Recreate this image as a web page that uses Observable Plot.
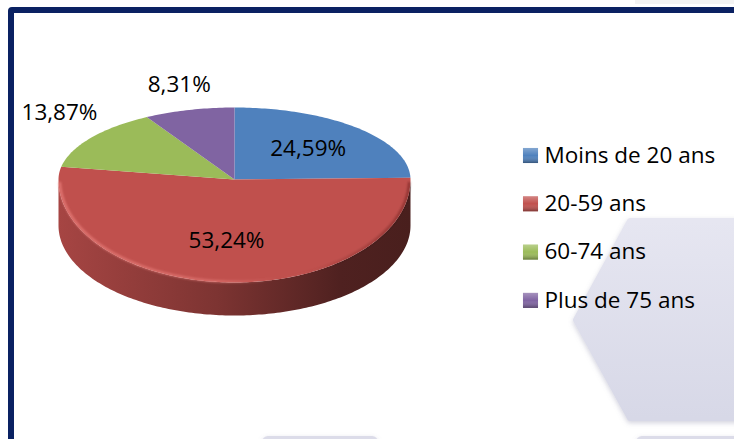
<!DOCTYPE html>
<html>
<head>
<meta charset="utf-8">
<script src="https://cdn.jsdelivr.net/npm/d3@7"></script>
<script src="https://cdn.jsdelivr.net/npm/@observablehq/plot@0.6"></script>
<style>
html, body { margin: 0; padding: 0; width: 734px; height: 439px; overflow: hidden; background: #fff; font-family: "Open Sans", sans-serif; }
#stage { position: relative; width: 734px; height: 439px; overflow: hidden; }
#deco, #chart { position: absolute; left: 0; top: 0; }
#frame { position: absolute; left: 8px; top: 7px; width: 900px; height: 600px; border: 6px solid #0a2162; border-radius: 4px; box-sizing: border-box; }
</style>
</head>
<body>
<div id="stage">
  <svg id="deco" width="734" height="439">
    <defs>
      <linearGradient id="hexg" x1="0" y1="0" x2="0" y2="1">
        <stop offset="0" stop-color="#e6e6f1"/>
        <stop offset="1" stop-color="#d7d8e7"/>
      </linearGradient>
      <filter id="soft" x="-20%" y="-20%" width="140%" height="140%">
        <feDropShadow dx="0" dy="2" stdDeviation="2.5" flood-color="#8080a0" flood-opacity="0.35"/>
      </filter>
    </defs>
    <path d="M630,221 L760,221 L760,418 L630,418 L576,320 Z" fill="url(#hexg)" stroke="url(#hexg)" stroke-width="6" stroke-linejoin="round" filter="url(#soft)"/>
    <rect x="262" y="436" width="116" height="20" rx="6" fill="#dcdce9" filter="url(#soft)"/>
    <rect x="636" y="436" width="120" height="20" rx="6" fill="#dcdce9" filter="url(#soft)"/>
    <rect x="635" y="0" width="99" height="4" fill="#f3f3f3"/>
  </svg>
  <div id="chart"></div>
  <div id="frame"></div>
</div>
<script>
// ---- data ----
const categories = ["Moins de 20 ans", "20-59 ans", "60-74 ans", "Plus de 75 ans"];
const shares = [24.59, 53.24, 13.87, 8.31];
const colors = ["#4F81BD", "#C0504D", "#9BBB59", "#8064A2"];
const labelInside = [true, true, false, false];

// ---- layout ----
const W = 734, H = 439;
const CX = 234, CY = 179, RX = 176, RYT = 72, RYB = 103; // top face
const CY2 = 225, RYB2 = 90;                               // bottom rim
const DEG = Math.PI / 180;
const FONT = "Open Sans";

function topPt(a, k = 1) {
  const c = Math.cos(a);
  return [CX + RX * k * Math.sin(a), CY - (c > 0 ? RYT : RYB) * k * c];
}
function botPt(a) {
  const c = Math.cos(a);
  return [CX + RX * Math.sin(a), CY2 - (c > 0 ? RYT : RYB2) * c];
}
function arcAngles(a0, a1) {
  const n = Math.max(2, Math.ceil((a1 - a0) / DEG));
  return d3.range(n + 1).map(j => a0 + (a1 - a0) * j / n);
}
const fmt = v => v.toFixed(2).replace(".", ",") + "%";

const total = d3.sum(shares);
let acc = 0;
const slices = shares.map((v, i) => {
  const a0 = acc / total * 2 * Math.PI;
  acc += v;
  const a1 = acc / total * 2 * Math.PI;
  return {i, cat: categories[i], v, a0, a1, mid: (a0 + a1) / 2};
});

// top faces
const faceData = slices.flatMap(s =>
  [[CX, CY], ...arcAngles(s.a0, s.a1).map(a => topPt(a))].map(([x, y]) => ({cat: s.cat, x, y}))
);

// sides (front half only)
const sideMarks = slices.map(s => {
  const b0 = Math.max(s.a0, Math.PI / 2), b1 = Math.min(s.a1, 1.5 * Math.PI);
  if (b1 <= b0) return null;
  const as = arcAngles(b0, b1);
  const pts = [...as.map(a => topPt(a)), ...as.slice().reverse().map(a => botPt(a))].map(([x, y]) => ({x, y}));
  return Plot.line(pts, {x: "x", y: "y", fill: `url(#side${s.i})`, stroke: "none", curve: "linear-closed"});
}).filter(Boolean);

// rim highlight along the front edge of the top face
const rimData = arcAngles(92 * DEG, 268 * DEG).map(a => { const [x, y] = topPt(a, 0.993); return {x, y}; });

// labels
const labelData = slices.map(s => {
  let x, y;
  if (labelInside[s.i]) {
    [x, y] = topPt(s.mid, 0.6);
  } else {
    const [ex, ey] = topPt(s.mid, 1);
    x = ex + 38 * Math.sin(s.mid);
    y = ey - 25;
  }
  return {x, y, text: fmt(s.v)};
});

const legendData = categories.map((cat, i) => ({cat, i}));
const LX = 530, LY = 155, LSTEP = 48.3;

const chart = Plot.plot({
  width: W, height: H, margin: 0,
  style: {background: "none", fontFamily: FONT},
  x: {domain: [0, W], range: [0, W], axis: null},
  y: {domain: [0, H], range: [0, H], axis: null},
  color: {domain: categories, range: colors},
  marks: [
    ...sideMarks,
    Plot.line(faceData, {x: "x", y: "y", z: "cat", fill: "cat", stroke: "none", curve: "linear-closed"}),
    Plot.line(rimData, {x: "x", y: "y", stroke: "url(#rim)", strokeWidth: 2.5, curve: "natural"}),
    Plot.text(labelData, {x: "x", y: "y", text: "text", fontSize: 22.5, fontFamily: FONT, fill: "#000", lineAnchor: "middle"}),
    Plot.dot(legendData, {x: d => LX, y: d => LY + d.i * LSTEP, symbol: "square", r: 8.5, fill: "cat"}),
    Plot.dot(legendData, {x: d => LX, y: d => LY + d.i * LSTEP, symbol: "square", r: 8.5, fill: "url(#bevel)"}),
    Plot.text(legendData, {x: d => LX + 14, y: d => LY + d.i * LSTEP, text: "cat", textAnchor: "start", lineAnchor: "middle", fontSize: 22.5, fontFamily: FONT, fill: "#000"})
  ]
});

const defs = slices.map(s => {
  const col = k => d3.color(colors[s.i]).darker(k).formatHex();
  return `<linearGradient id="side${s.i}" gradientUnits="userSpaceOnUse" x1="${CX - RX}" y1="0" x2="${CX + RX}" y2="0">
    <stop offset="0" stop-color="${col(0.4)}"/>
    <stop offset="0.45" stop-color="${col(1.2)}"/>
    <stop offset="0.8" stop-color="${col(2.5)}"/>
    <stop offset="1" stop-color="${col(2.7)}"/>
  </linearGradient>`;
}).join("") + `
  <linearGradient id="rim" gradientUnits="userSpaceOnUse" x1="${CX - RX}" y1="0" x2="${CX + RX}" y2="0">
    <stop offset="0" stop-color="#ee8480" stop-opacity="0.75"/>
    <stop offset="0.45" stop-color="#ea817d" stop-opacity="0.6"/>
    <stop offset="0.62" stop-color="#ea817d" stop-opacity="0"/>
    <stop offset="0.8" stop-color="#3a1010" stop-opacity="0.15"/>
    <stop offset="1" stop-color="#3a1010" stop-opacity="0.4"/>
  </linearGradient>
  <linearGradient id="bevel" x1="0" y1="0" x2="0" y2="1">
    <stop offset="0" stop-color="#fff" stop-opacity="0.3"/>
    <stop offset="0.5" stop-color="#fff" stop-opacity="0"/>
    <stop offset="1" stop-color="#000" stop-opacity="0.35"/>
  </linearGradient>
  <filter id="blur" x="-5%" y="-5%" width="110%" height="110%"><feGaussianBlur stdDeviation="1"/></filter>`;

d3.select(chart).insert("defs", ":first-child").html(defs);
d3.select(chart).selectAll('[stroke="url(#rim)"]').attr("filter", "url(#blur)");
document.getElementById("chart").appendChild(chart);
</script>
</body>
</html>
